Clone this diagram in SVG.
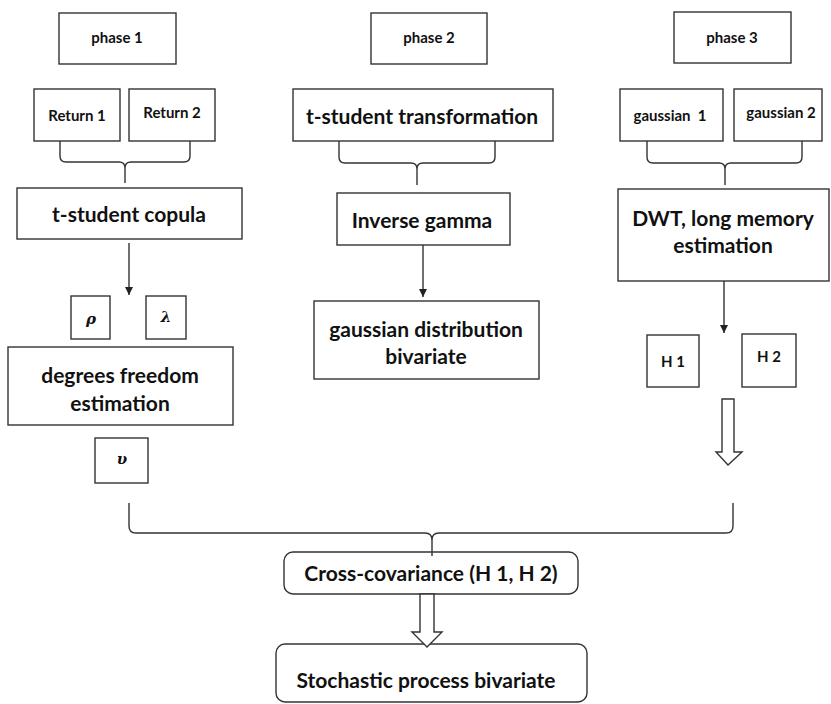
<svg xmlns="http://www.w3.org/2000/svg" width="831" height="704" viewBox="0 0 831 704">
<defs>
<style>
.box{fill:#fff;stroke:#333;stroke-width:1.4}
.ln{fill:none;stroke:#333;stroke-width:1.4}
.t{font-family:Lato,"Open Sans","Liberation Sans",sans-serif;font-weight:bold;fill:#111;text-anchor:middle}
.s{font-size:15px}
.m{font-size:21px}
.g{font-family:"DejaVu Serif","Liberation Serif",serif;font-style:italic;font-weight:bold;font-size:15px;fill:#111;text-anchor:middle}
</style>
<marker id="ah" viewBox="0 0 10 10" refX="10" refY="5" markerWidth="8" markerHeight="8" markerUnits="userSpaceOnUse" orient="auto">
<path d="M0,0 L10,5 L0,10 z" fill="#222"/>
</marker>
</defs>
<rect width="831" height="704" fill="#fff"/>

<g id="phase1"><rect class="box" x="59" y="13" width="117" height="51"/><text class="t s" x="117" y="43">phase 1</text></g>
<g id="phase2"><rect class="box" x="371" y="13" width="116" height="51"/><text class="t s" x="429" y="43">phase 2</text></g>
<g id="phase3"><rect class="box" x="674" y="12" width="117" height="51"/><text class="t s" x="732" y="43">phase 3</text></g>

<g id="return1"><rect class="box" x="34" y="89" width="86" height="52"/><text class="t s" x="77" y="121">Return 1</text></g>
<g id="return2"><rect class="box" x="129" y="89" width="86" height="52"/><text class="t s" x="172" y="118">Return 2</text></g>
<g id="tstudent-transformation"><rect class="box" x="293" y="89" width="260" height="52"/><text class="t m" x="422" y="124">t-student transformation</text></g>
<g id="gaussian1"><rect class="box" x="620" y="89" width="103" height="52"/><text class="t s" x="670" y="121" xml:space="preserve">gaussian  1</text></g>
<g id="gaussian2"><rect class="box" x="734" y="89" width="88" height="52"/><text class="t s" x="781" y="118">gaussian 2</text></g>

<g id="tstudent-copula"><rect class="box" x="17" y="188" width="225" height="51"/><text class="t m" x="129" y="222">t-student copula</text></g>
<g id="inverse-gamma"><rect class="box" x="337" y="193" width="173" height="52"/><text class="t m" x="422" y="228">Inverse gamma</text></g>
<g id="dwt"><rect class="box" x="618" y="189" width="211" height="92"/><text class="t m" x="723" y="226">DWT, long memory</text><text class="t m" x="723" y="253">estimation</text></g>

<g id="rho"><rect class="box" x="71" y="296" width="39" height="43"/><text class="g" x="91" y="324">ρ</text></g>
<g id="lambda"><rect class="box" x="146" y="296" width="40" height="43"/><text class="g" x="166" y="322">λ</text></g>
<g id="gaussian-distribution"><rect class="box" x="314" y="301" width="225" height="78"/><text class="t m" x="426" y="337">gaussian distribution</text><text class="t m" x="426" y="364">bivariate</text></g>
<g id="h1"><rect class="box" x="647" y="335" width="52" height="52"/><text class="t s" x="673" y="367">H 1</text></g>
<g id="h2"><rect class="box" x="742" y="334" width="54" height="53"/><text class="t s" x="769" y="362">H 2</text></g>

<g id="degrees-freedom"><rect class="box" x="8" y="347" width="225" height="78"/><text class="t m" x="120" y="383">degrees freedom</text><text class="t m" x="120" y="411">estimation</text></g>
<g id="upsilon"><rect class="box" x="95" y="438" width="53" height="45"/><text class="g" x="122" y="464">υ</text></g>

<g id="cross-covariance"><rect class="box" x="284" y="552" width="294" height="42" rx="9"/><text class="t m" x="431" y="581">Cross-covariance (H 1, H 2)</text></g>
<g id="stochastic"><rect class="box" x="276" y="644" width="311" height="58" rx="9"/><text class="t m" x="426" y="688">Stochastic process bivariate</text></g>

<g id="connectors">
<path class="ln" d="M60,141 L60,156 Q60,162 66,162 L119,162 Q125,162 125,168 L125,183 M125,168 Q125,162 131,162 L184,162 Q190,162 190,156 L190,141"/>
<path class="ln" d="M339,141 L339,157 Q339,163 345,163 L411,163 Q417,163 417,169 L417,185 M417,169 Q417,163 423,163 L489,163 Q495,163 495,157 L495,141"/>
<path class="ln" d="M647,141 L647,157 Q647,163 653,163 L719,163 Q725,163 725,169 L725,185 M725,169 Q725,163 731,163 L796,163 Q802,163 802,157 L802,141"/>
<path class="ln" d="M129,503 L129,526 Q129,533 136,533 L425,533 Q432,533 432,540 L432,556 M432,540 Q432,533 439,533 L726,533 Q733,533 733,526 L733,503"/>
<line class="ln" x1="129" y1="243" x2="129" y2="295" marker-end="url(#ah)"/>
<line class="ln" x1="423" y1="245" x2="423" y2="297" marker-end="url(#ah)"/>
<line class="ln" x1="724" y1="281" x2="724" y2="333" marker-end="url(#ah)"/>
<polygon class="box" points="722,399 734,399 734,452 742,452 728,465 716,452 722,452"/>
<polygon class="box" points="420,594 434,594 434,632 442,632 427,647 412,632 420,632"/>
</g>
</svg>
